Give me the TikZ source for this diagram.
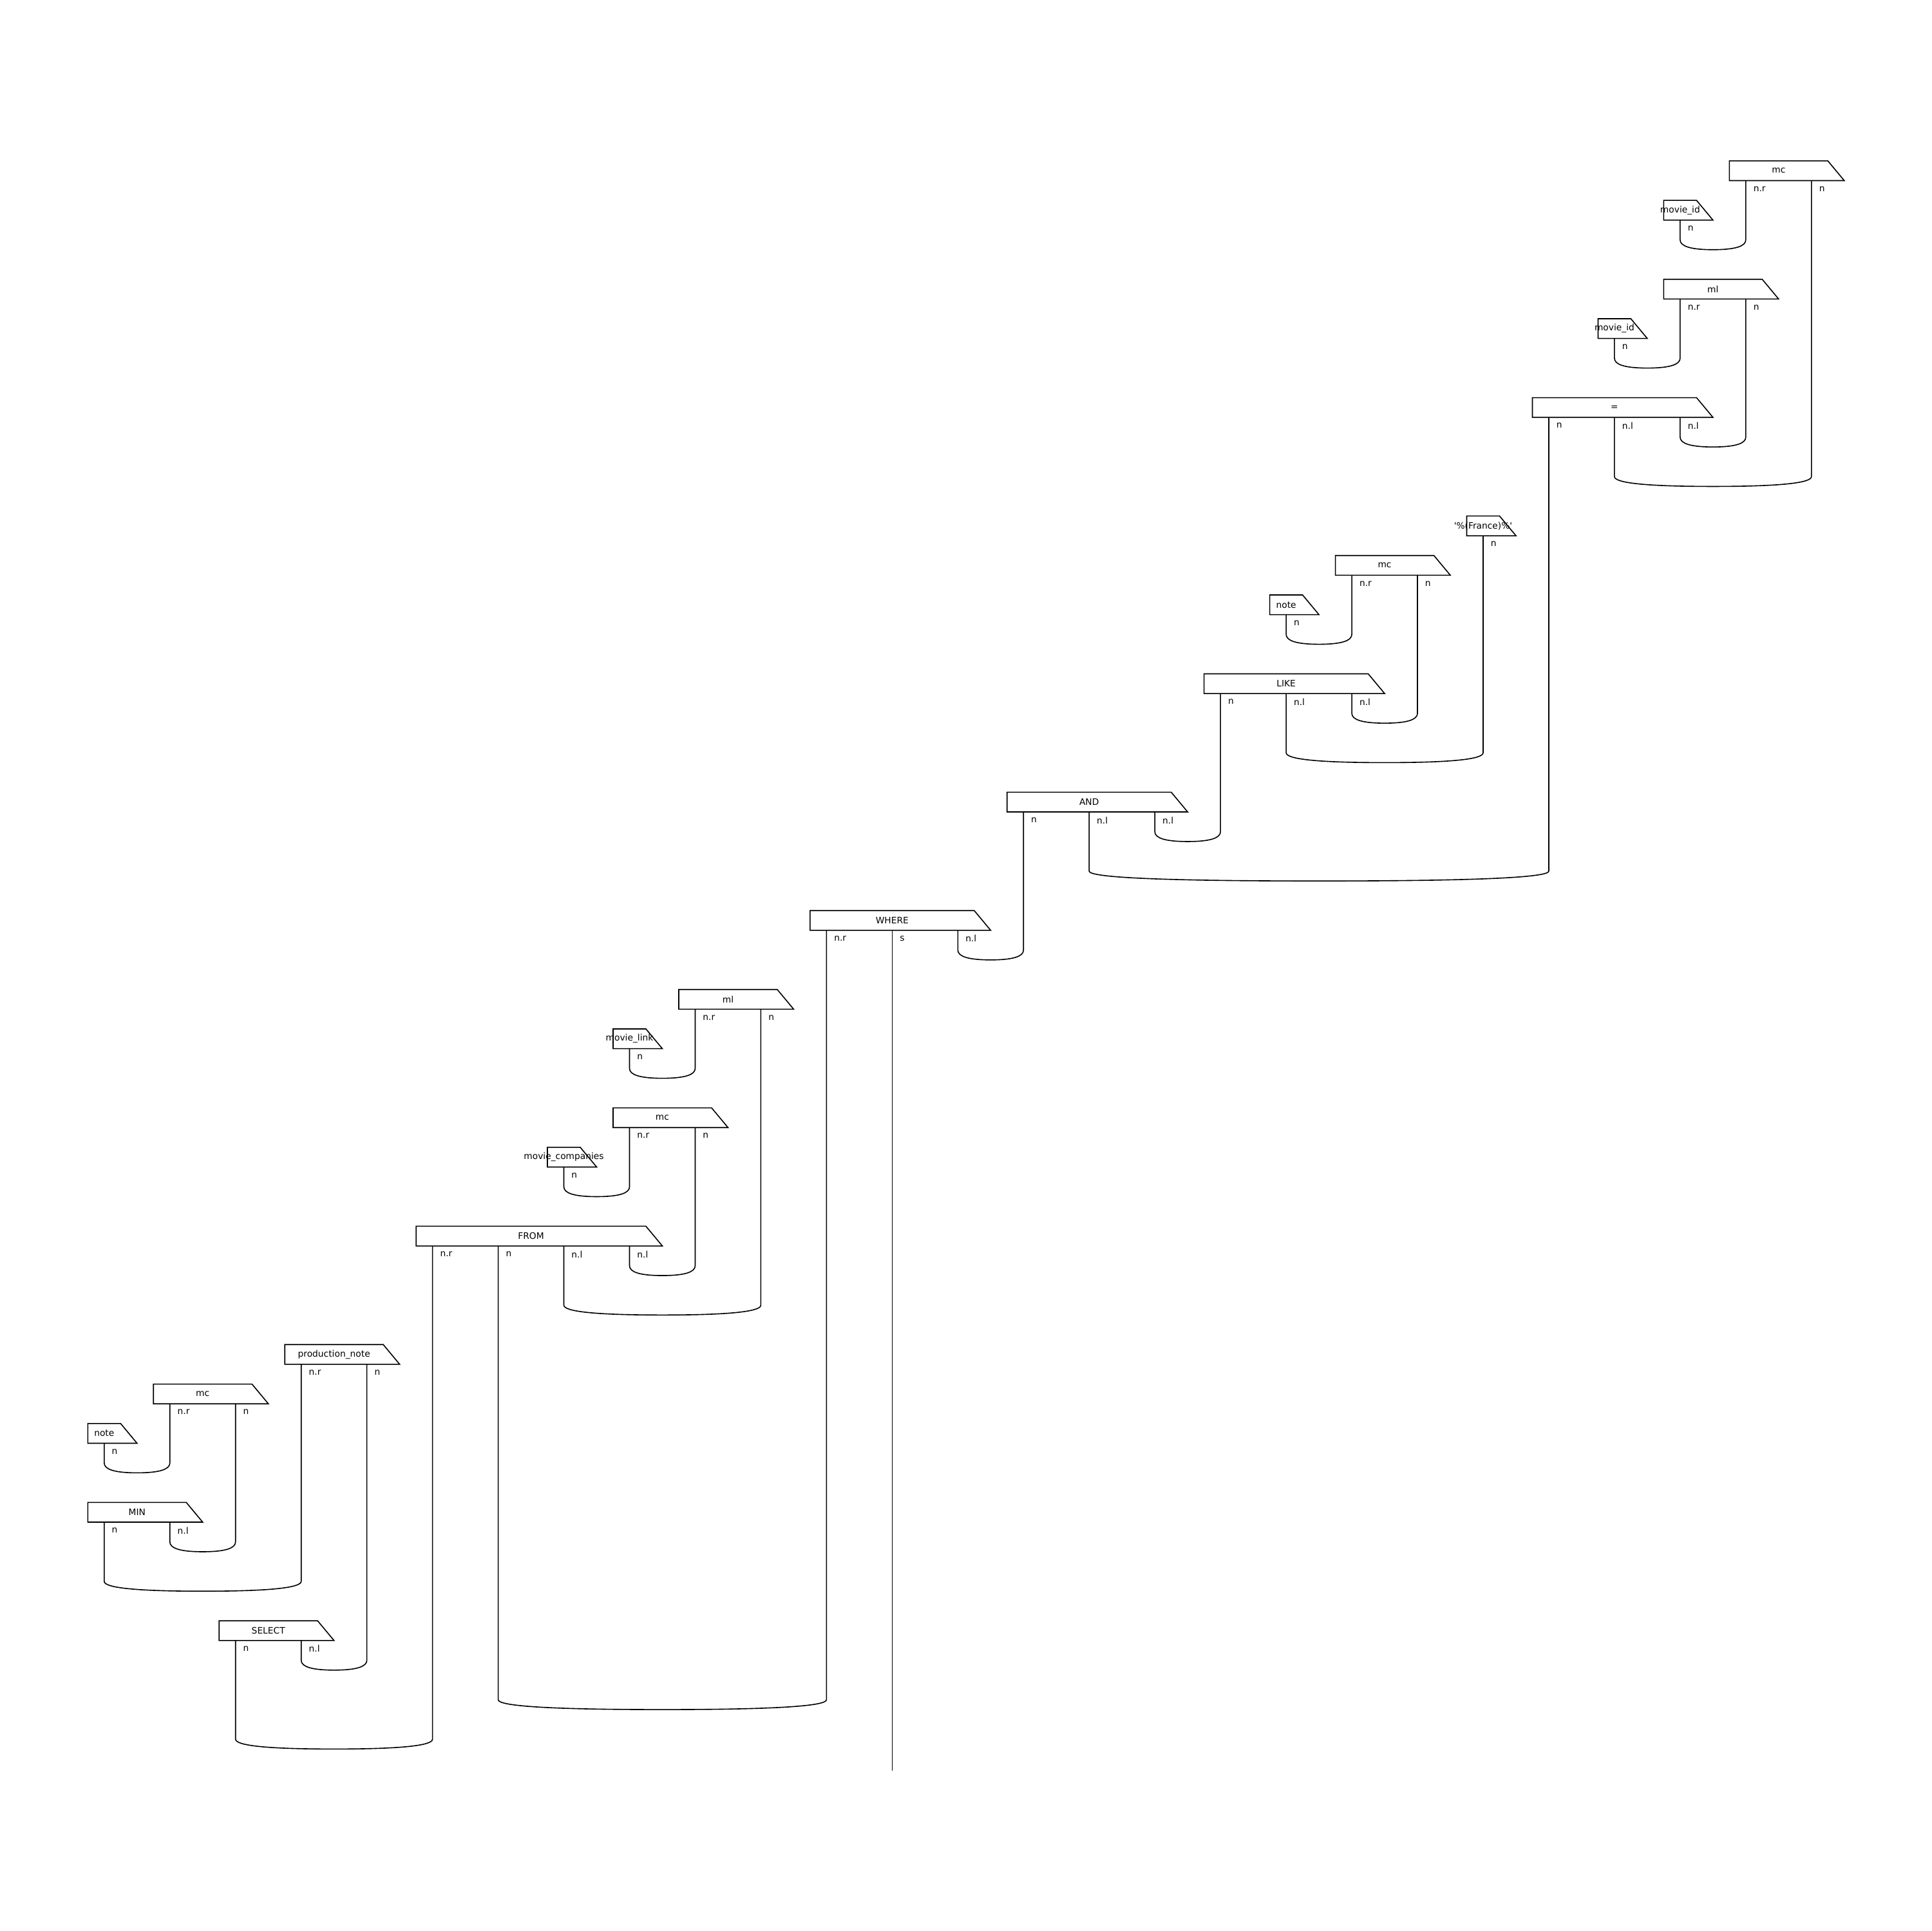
\documentclass[tikz,border=0pt]{standalone}
\usepackage{fontspec}
\setmainfont{DejaVu Sans}
\usetikzlibrary{calc}

\tikzset{
    diag/.style={line width=0.45pt},
    boxtext/.style={font=\fontsize{3.85}{4.6}\selectfont, inner sep=0pt},
    wiretext/.style={font=\fontsize{3.85}{4.6}\selectfont, inner sep=0pt, anchor=west}
}

% box: name, row, first wire, last wire, label
\newcommand{\wordbox}[5]{%
    \draw[diag] (#3-0.25,-#2) -- (#4+0.25,-#2) -- (#4+0.5,-#2-0.5)
        -- (#3-0.25,-#2-0.5) -- cycle;
    \node[boxtext] (#1) at ({(#3+#4)/2},-#2-0.25) {#5};
}

% output of a box: box name, index, wire, row, type
\newcommand{\wireport}[5]{%
    \coordinate (#1-#2) at (#3,-#4-0.5);
    \node[wiretext] (#1-#2-t) at (#3+0.11,-#4-0.71) {#5};
}

% cup: left output, right output, row
\newcommand{\cupwire}[3]{%
    \draw[diag] let \p1=(#1), \p2=(#2), \p3=($(#1)!0.5!(#2)$),
                    \p4=(0,-#3), \p5=(0,-#3-0.25) in
        (\p1) -- (\x1,\y4)
        .. controls (\x1,{\y4+(\y5-\y4)*2/3}) and ({\x1+(\x3-\x1)/3},\y5) .. (\x3,\y5)
        .. controls ({\x2+(\x3-\x2)/3},\y5) and (\x2,{\y4+(\y5-\y4)*2/3}) .. (\x2,\y4)
        -- (\p2);
}

\begin{document}
\begin{tikzpicture}[x=1cm, y=0.601cm]

    \useasboundingbox (-1.587,4.078) rectangle (27.836,-44.86);

    % =================================================================
    % 1. BOXES (row, first wire, last wire)
    % =================================================================
    \foreach \nm/\r/\a/\b/\txt in {
        mcA/0/25/26/mc, midA/1/24/24/movie\_id, mlA/3/24/25/ml,
        midB/4/23/23/movie\_id, eq/6/22/24/=,
        fra/9/21/21/\textquotesingle\%(France)\%\textquotesingle,
        mcB/10/19/20/mc, noteA/11/18/18/note, like/13/17/19/LIKE,
        and/16/14/16/AND, where/19/11/13/WHERE,
        mlB/21/9/10/ml, mlink/22/8/8/movie\_link, mcC/24/8/9/mc,
        mcomp/25/7/7/movie\_companies, from/27/5/8/FROM,
        prod/30/3/4/production\_note, mcD/31/1/2/mc, noteB/32/0/0/note,
        min/34/0/1/MIN, sel/37/2/3/SELECT} {
        \wordbox{\nm}{\r}{\a}{\b}{\txt}
    }

    % =================================================================
    % 2. OUTPUT WIRES OF THE BOXES
    % =================================================================
    \foreach \nm/\i/\k/\r/\ty in {
        mcA/1/25/0/n.r, mcA/2/26/0/n,
        midA/1/24/1/n,
        mlA/1/24/3/n.r, mlA/2/25/3/n,
        midB/1/23/4/n,
        eq/1/22/6/n, eq/2/23/6/n.l, eq/3/24/6/n.l,
        fra/1/21/9/n,
        mcB/1/19/10/n.r, mcB/2/20/10/n,
        noteA/1/18/11/n,
        like/1/17/13/n, like/2/18/13/n.l, like/3/19/13/n.l,
        and/1/14/16/n, and/2/15/16/n.l, and/3/16/16/n.l,
        where/1/11/19/n.r, where/2/12/19/s, where/3/13/19/n.l,
        mlB/1/9/21/n.r, mlB/2/10/21/n,
        mlink/1/8/22/n,
        mcC/1/8/24/n.r, mcC/2/9/24/n,
        mcomp/1/7/25/n,
        from/1/5/27/n.r, from/2/6/27/n, from/3/7/27/n.l, from/4/8/27/n.l,
        prod/1/3/30/n.r, prod/2/4/30/n,
        mcD/1/1/31/n.r, mcD/2/2/31/n,
        noteB/1/0/32/n,
        min/1/0/34/n, min/2/1/34/n.l,
        sel/1/2/37/n, sel/2/3/37/n.l} {
        \wireport{\nm}{\i}{\k}{\r}{\ty}
    }

    % =================================================================
    % 3. CUPS
    % =================================================================
    \foreach \pa/\pb/\r in {
        midA-1/mcA-1/2, midB-1/mlA-1/5, eq-3/mlA-2/7, eq-2/mcA-2/8,
        noteA-1/mcB-1/12, like-3/mcB-2/14, like-2/fra-1/15,
        and-3/like-1/17, and-2/eq-1/18, where-3/and-1/20,
        mlink-1/mlB-1/23, mcomp-1/mcC-1/26, from-4/mcC-2/28, from-3/mlB-2/29,
        noteB-1/mcD-1/33, min-2/mcD-2/35, min-1/prod-1/36,
        sel-2/prod-2/38, from-2/where-1/39, sel-1/from-1/40} {
        \cupwire{\pa}{\pb}{\r}
    }

    % open output wire
    \coordinate (out) at (12,-40.8);
    \draw[diag] (where-2) -- (out);

\end{tikzpicture}
\end{document}
